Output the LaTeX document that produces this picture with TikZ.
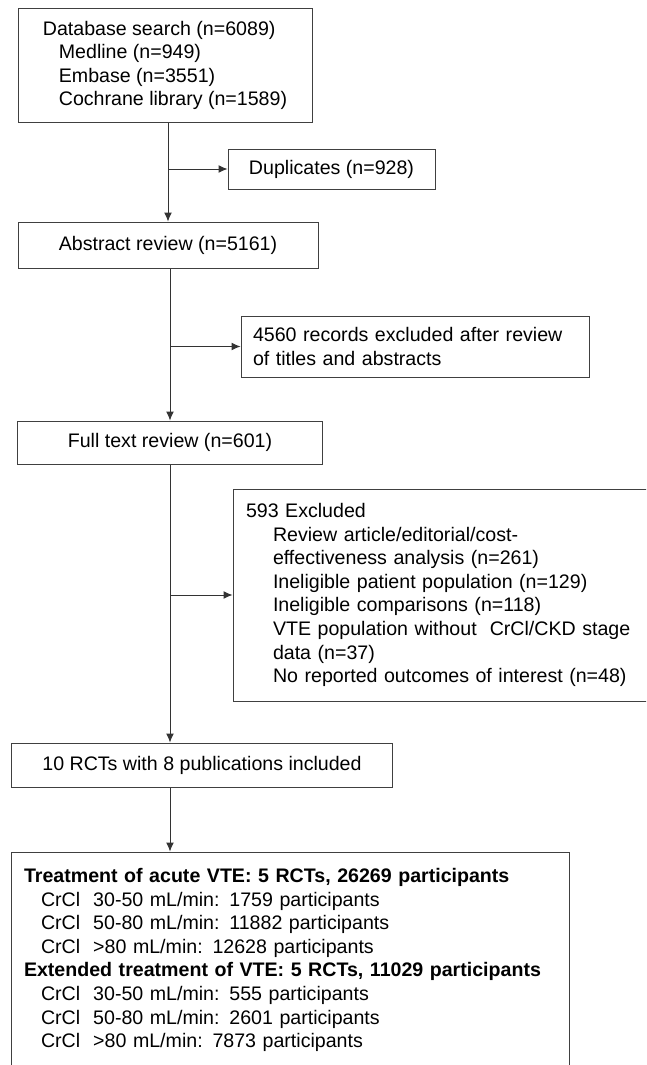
\documentclass[tikz,border=0pt]{standalone}
\usepackage{fontspec}
\setmainfont{Liberation Sans}
\usetikzlibrary{arrows.meta}

\tikzstyle{box}=[rectangle, draw=black!75, line width=1pt, inner sep=0pt, text=black, font=\fontsize{19.6pt}{23.6pt}\selectfont]
\tikzstyle{listbox}=[box, align=left, inner xsep=12pt]
\tikzstyle{arrow2}=[line width=1pt, draw=black!80, ->, >={Latex[length=9pt,width=8pt]}]

\begin{document}
\begin{tikzpicture}[x=1pt, y=-1pt]
\useasboundingbox (0,0) rectangle (646,1065);
\clip (0,0) rectangle (646,1065);
\node (search) [box, align=left, minimum width=294pt, minimum height=113pt] at (165,65.5) {Database search (n=6089)\\\hspace*{16pt}Medline (n=949)\\\hspace*{16pt}Embase (n=3551)\\\hspace*{16pt}Cochrane library (n=1589)};
\node (dupl) [box, minimum width=207pt, minimum height=40pt] at (331.5,169) {Duplicates (n=928)};
\node (abstr) [box, minimum width=300pt, minimum height=46pt] at (168,245) {Abstract review (n=5161)};
\node (excl1) [listbox, text width=324pt, minimum height=61pt] at (415,346.5) {4560 records excluded after review\\of titles and abstracts};
\node (fulltext) [box, minimum width=305pt, minimum height=43pt] at (170,442.5) {Full text review (n=601)};
\node (excl2) [listbox, inner xsep=13pt, text width=441pt, minimum height=212pt] at (466.5,595) {593 Excluded\\\hspace*{27pt}Review article/editorial/cost-\\\hspace*{27pt}effectiveness analysis (n=261)\\\hspace*{27pt}Ineligible patient population (n=129)\\\hspace*{27pt}Ineligible comparisons (n=118)\\\hspace*{27pt}VTE population without\ \ CrCl/CKD stage\\\hspace*{27pt}data (n=37)\\\hspace*{27pt}No reported outcomes of interest (n=48)};
\node (incl) [box, minimum width=381.5pt, minimum height=44pt] at (202,765) {10 RCTs with 8 publications included};
\node (result) [listbox, inner xsep=12.5pt, text width=532.5pt, minimum height=216pt] at (290.25,960) {\textbf{Treatment of acute VTE: 5 RCTs, 26269 participants}\\\hspace*{17pt}CrCl\ \ 30-50 mL/min: 1759 participants\\\hspace*{17pt}CrCl\ \ 50-80 mL/min: 11882 participants\\\hspace*{17pt}CrCl\ \ >80 mL/min: 12628 participants\\\textbf{Extended treatment of VTE: 5 RCTs, 11029 participants}\\\hspace*{17pt}CrCl\ \ 30-50 mL/min: 555 participants\\\hspace*{17pt}CrCl\ \ 50-80 mL/min: 2601 participants\\\hspace*{17pt}CrCl\ \ >80 mL/min: 7873 participants};
\draw[arrow2] (abstr.north |- search.south) -- (abstr.north);
\draw[arrow2] (abstr.north |- dupl.west) -- (dupl.west);
\draw[arrow2] (fulltext.north |- abstr.south) -- (fulltext.north);
\draw[arrow2] (fulltext.north |- excl1.west) -- (excl1.west);
\draw[arrow2] (fulltext.south) -- (fulltext.south |- incl.north);
\draw[arrow2] (fulltext.south |- excl2.west) -- (excl2.west);
\draw[arrow2] (fulltext.south |- incl.south) -- (fulltext.south |- result.north);
\end{tikzpicture}
\end{document}
